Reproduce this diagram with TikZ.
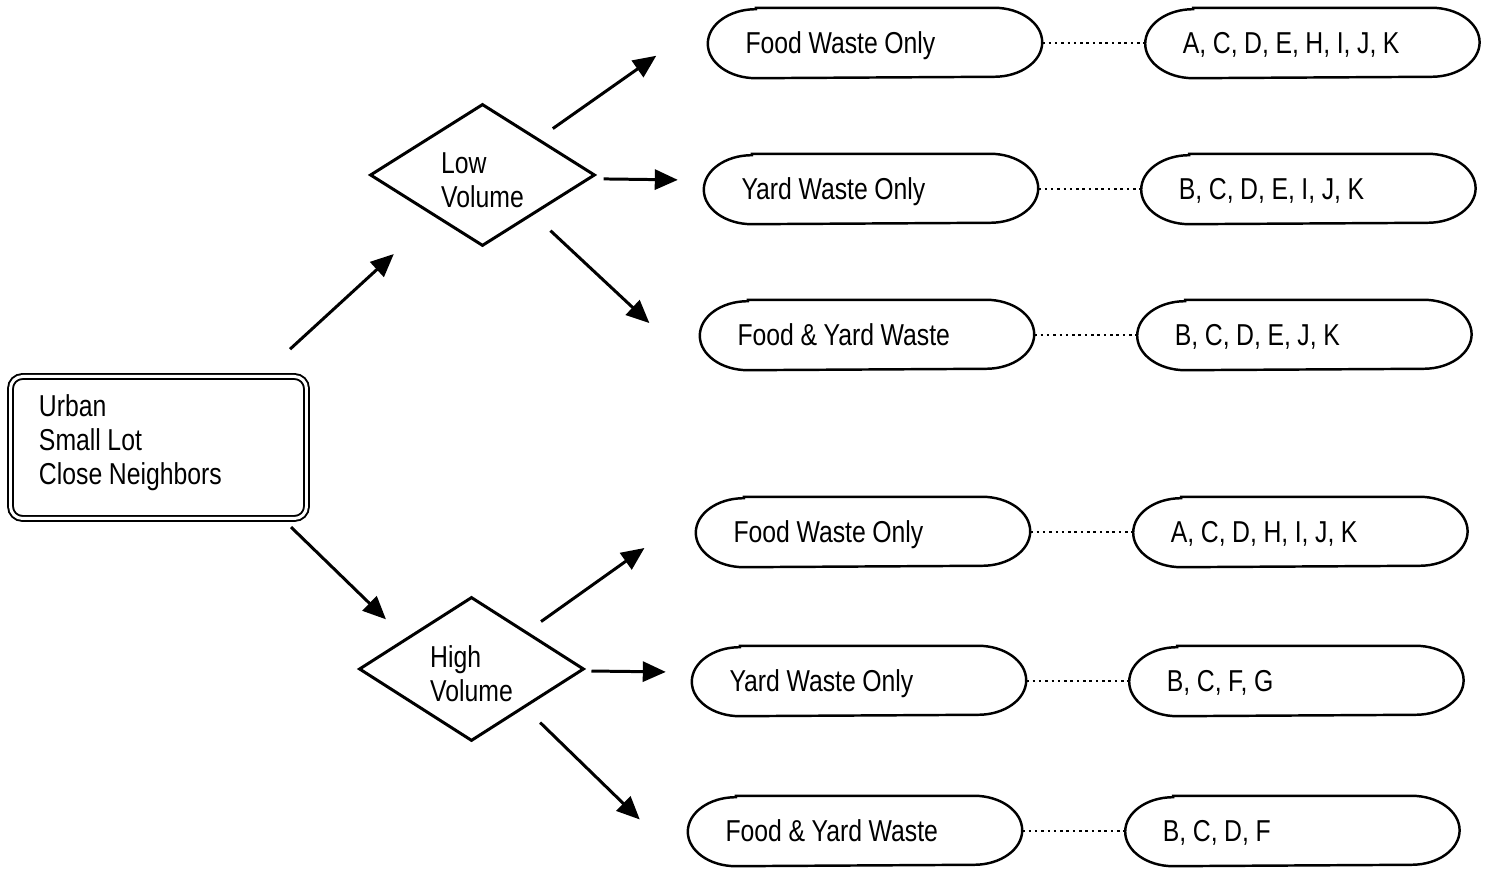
\documentclass[tikz,border=0pt]{standalone}
\usepackage{fontspec}
\setmainfont{Liberation Sans}[FakeStretch=0.82, WordSpace=0.95]
\usetikzlibrary{shapes.geometric,positioning,arrows.meta}

\tikzset{
  txt/.style={font=\fontsize{8.6}{9.6}\selectfont},
  pill/.style={txt, rectangle, minimum width=3.33cm, minimum height=0.69cm, text width=2.59cm, inner xsep=0.37cm, align=flush left, text height=6.2pt, text depth=0pt},
  pillline/.style={black, line width=0.7pt},
  choice/.style={txt, diamond, draw, line width=0.85pt, minimum width=2.25cm, minimum height=1.42cm, aspect=1.6, inner sep=0pt, align=flush left},
  arr/.style={black, line width=0.85pt, -{Triangle[length=0.23cm,width=0.2cm]}},
  link/.style={black, line width=0.7pt, dash pattern=on 0.7pt off 1.1pt}
}

\begin{document}
\begin{tikzpicture}
    \useasboundingbox (0,0) rectangle (14.86,8.72);

    % lot type
    \node[txt, draw, double, line width=0.55pt, double distance=0.85pt, rounded corners=0.12cm, minimum width=2.96cm, minimum height=1.42cm, text width=2.39cm, inner xsep=0.285cm, align=flush left] (main) at (1.585,4.245) {Urban\\Small Lot\\Close Neighbors\vspace{0.1cm}};

    % volume
    \node[choice] (low) at (4.825,6.97) {\rule{0pt}{9pt}Low\\Volume};
    \node[choice, minimum height=1.44cm] (high) at (4.715,2.03) {\rule{0pt}{9pt}High\\Volume};

    % waste streams and options
    \node[pill] (food1) at (8.75,8.29) {Food Waste Only};
    \node[pill] (yard1) at (8.71,6.83) {Yard Waste Only};
    \node[pill] (both1) at (8.67,5.37) {Food \& Yard Waste};
    \node[pill] (food2) at (8.63,3.40) {Food Waste Only};
    \node[pill] (yard2) at (8.59,1.91) {Yard Waste Only};
    \node[pill] (both2) at (8.55,0.41) {Food \& Yard Waste};
    \node[pill, right=1.03cm of food1] (optfood1) {A, C, D, E, H, I, J, K};
    \node[pill, right=1.03cm of yard1] (optyard1) {B, C, D, E, I, J, K};
    \node[pill, right=1.03cm of both1] (optboth1) {B, C, D, E, J, K};
    \node[pill, right=1.03cm of food2] (optfood2) {A, C, D, H, I, J, K};
    \node[pill, right=1.03cm of yard2] (optyard2) {B, C, F, G};
    \node[pill, right=1.03cm of both2] (optboth2) {B, C, D, F};

    \foreach \n in {food1,yard1,both1,food2,yard2,both2,optfood1,optyard1,optboth1,optfood2,optyard2,optboth2}
      \draw[pillline] ([xshift=0.48cm]\n.north west) -- ([xshift=-0.48cm]\n.north east)
        arc[start angle=90, end angle=-90, x radius=0.48cm, y radius=0.345cm]
        -- ([xshift=0.48cm]\n.south west)
        arc[start angle=270, end angle=90, x radius=0.48cm, y radius=0.345cm] -- cycle;

    \foreach \a in {food1,yard1,both1,food2,yard2,both2}
      \draw[link] (\a) -- (opt\a);

    % arrows
    \draw[arr, shorten <=0.39cm, shorten >=0.55cm] (main.35) -- (low.221);
    \draw[arr, shorten <=0.11cm, shorten >=0.27cm] (main.-30) -- (high.155);
    \draw[arr, shorten <=0.17cm, shorten >=0.63cm] (low.33) -- (food1.172);
    \draw[arr, shorten <=0.13cm, shorten >=0.26cm] (low.-2) -- (yard1.177);
    \draw[arr, shorten <=0.23cm, shorten >=0.69cm] (low.-38) -- (both1.south west);
    \draw[arr, shorten <=0.17cm, shorten >=0.63cm] (high.34) -- (food2.173);
    \draw[arr, shorten <=0.09cm, shorten >=0.26cm] (high.-1) -- (yard2.177);
    \draw[arr, shorten <=0.21cm, shorten >=0.67cm] (high.-36) -- (both2.south west);
\end{tikzpicture}
\end{document}
